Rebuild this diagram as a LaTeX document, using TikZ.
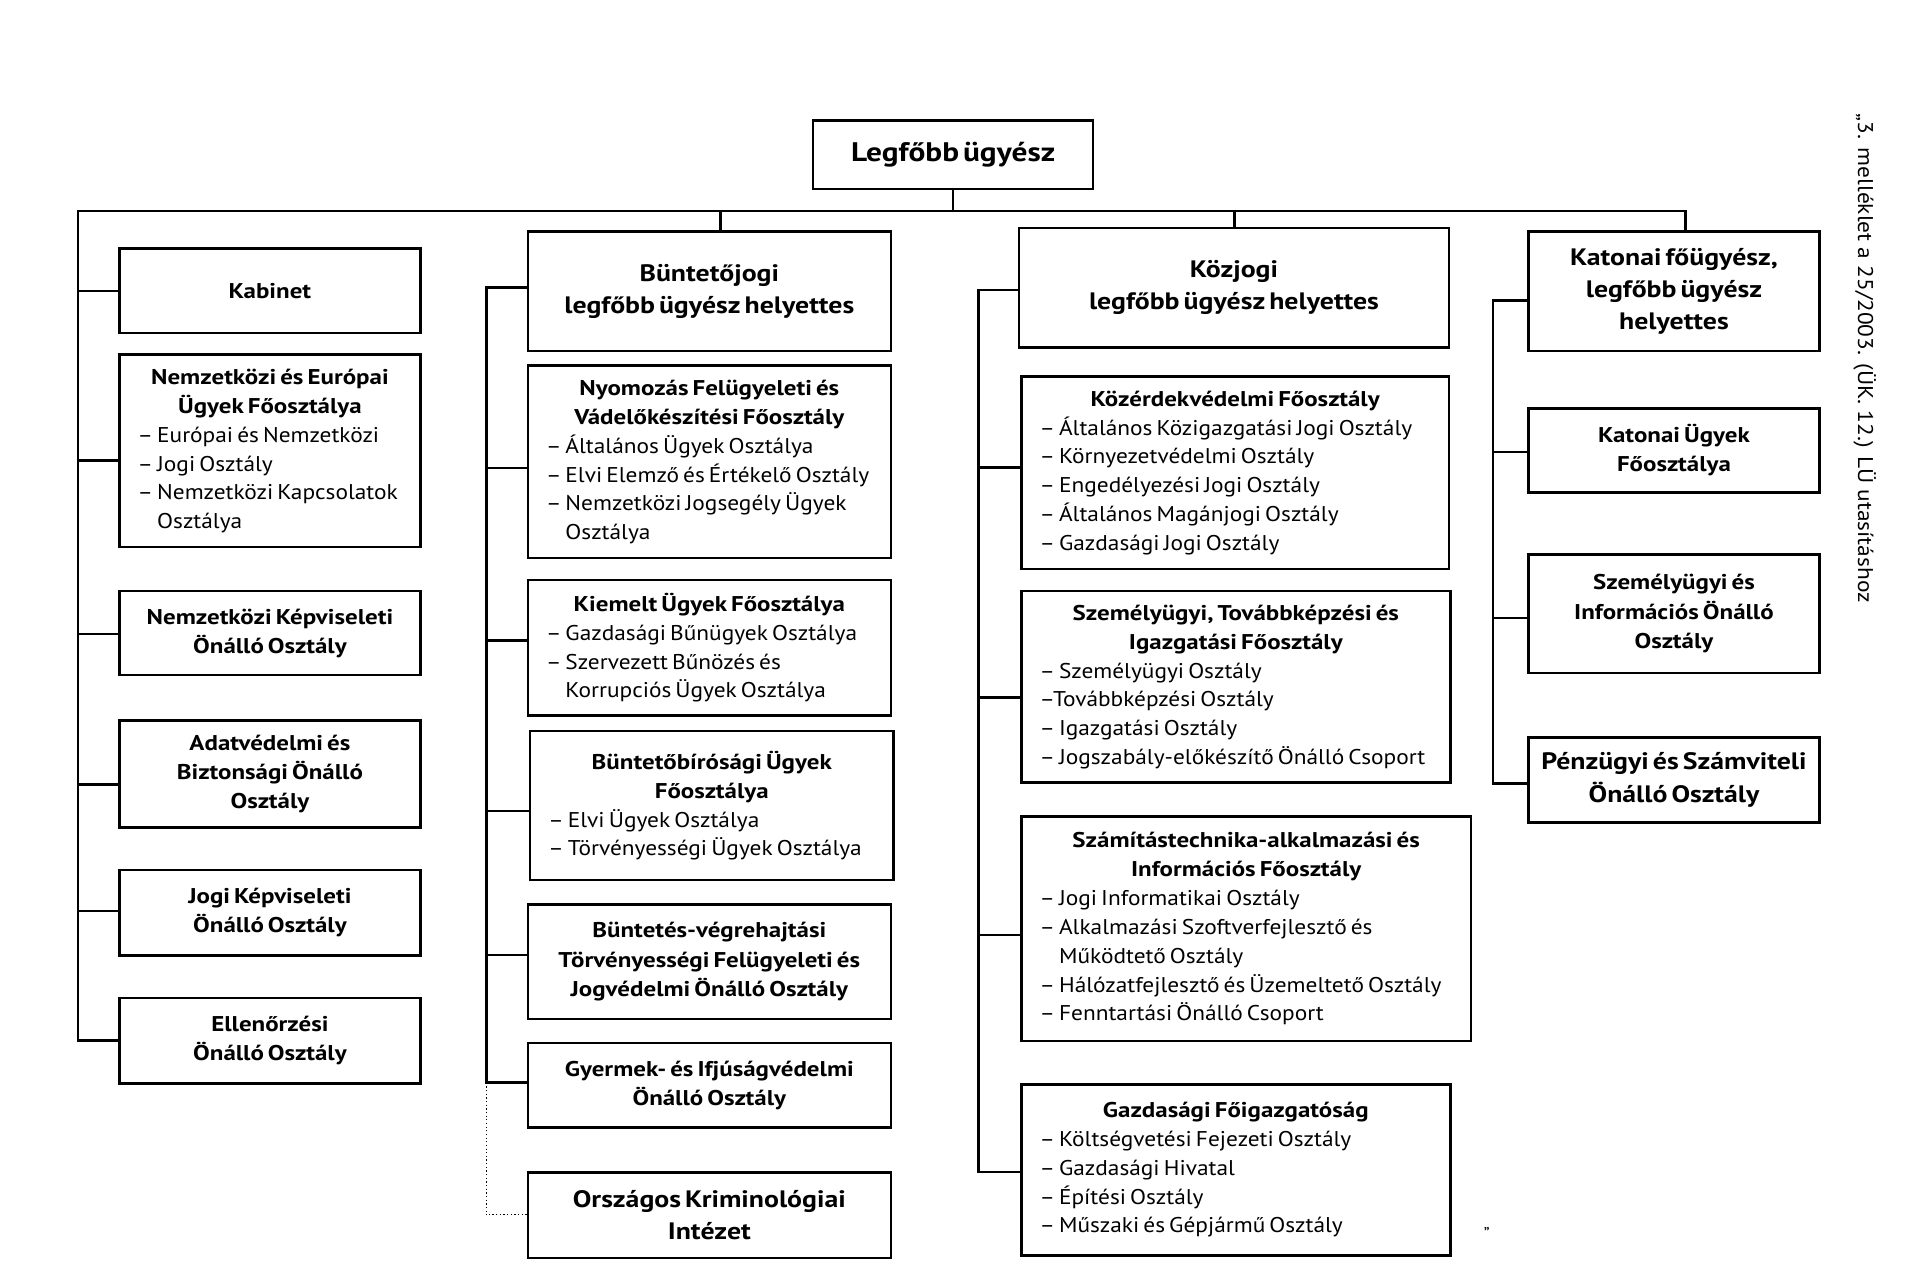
\documentclass[tikz,border=0pt]{standalone}
\usepackage{fontspec}
\setmainfont{PT Sans}
\newfontfamily\regf{PT Sans}[FakeStretch=1.095]
\newfontfamily\boldf{PT Sans}[FakeStretch=1.17]
\usetikzlibrary{calc}
\tikzset{
  x=1pt, y=-1pt,
  box/.style={draw, line width=2pt, inner sep=0pt},
  conn/.style={line width=2pt, line cap=rect},
  dotconn/.style={line width=1pt, dotted},
}
\newcommand\ttop{\fontsize{22}{28}\selectfont\boldf\bfseries}
\newcommand\tb{\fontsize{19.5}{26.5}\selectfont\boldf\bfseries}
\newcommand\tn{\fontsize{17.5}{24}\selectfont\boldf\bfseries}
\newcommand\ti{\par\raggedright\fontsize{17.5}{23.6}\selectfont\regf\mdseries}
\newcommand\hang{\hphantom{– }}
\newcommand\orgbox[7][15]{%
  \pgfmathsetmacro\bw{#5-#3}\pgfmathsetmacro\bh{#6-#4}\pgfmathsetmacro\tw{#5-#3-2*#1}%
  \node[box, minimum width=\bw pt, minimum height=\bh pt, text width=\tw pt] (#2) at ({(#3+#5)/2},{(#4+#6)/2}) {\centering #7\par};}
\newcommand\branch[4][conn]{%
  \path ($(#3.north west)!#4!(#3.south west)$) coordinate (b-#3);
  \draw[#1] (b-#3) -- (b-#3 -| #2);}
\begin{document}
\begin{tikzpicture}
\useasboundingbox (0,0) rectangle (1568,1048.6);
% top
\orgbox{top}{667}{99}{897}{155}{\ttop Legfőbb ügyész}
% column 1
\orgbox{kab}{98}{204}{345}{273}{\tn Kabinet}
\orgbox{nee}{98}{291}{345}{449}{\tn Nemzetközi és Európai\\Ügyek Főosztálya\ti – Európai és Nemzetközi\\– Jogi Osztály\\– Nemzetközi Kapcsolatok\\\hang Osztálya}
\orgbox[6]{nkk}{98}{485}{345}{554}{\tn Nemzetközi Képviseleti\\Önálló Osztály}
\orgbox{adat}{98}{591}{345}{679}{\tn Adatvédelmi és\\Biztonsági Önálló\\Osztály}
\orgbox{jogi}{98}{714}{345}{784}{\tn Jogi Képviseleti\\Önálló Osztály}
\orgbox{ell}{98}{819}{345}{889}{\tn Ellenőrzési\\Önálló Osztály}
% column 2
\orgbox{bj}{433}{190}{731}{288}{\tb Büntetőjogi\\legfőbb ügyész helyettes}
\orgbox{nyo}{433}{300}{731}{458}{\tn Nyomozás Felügyeleti és\\Vádelőkészítési Főosztály\ti – Általános Ügyek Osztálya\\– Elvi Elemző és Értékelő Osztály\\– Nemzetközi Jogsegély Ügyek\\\hang Osztálya}
\orgbox{kie}{433}{476}{731}{587}{\tn Kiemelt Ügyek Főosztálya\ti – Gazdasági Bűnügyek Osztálya\\– Szervezett Bűnözés és\\\hang Korrupciós Ügyek Osztálya}
\orgbox{bb}{435}{600}{733}{722}{\tn Büntetőbírósági Ügyek\\Főosztálya\ti – Elvi Ügyek Osztálya\\– Törvényességi Ügyek Osztálya}
\orgbox{bv}{433}{742}{731}{836}{\tn Büntetés-végrehajtási\\Törvényességi Felügyeleti és\\Jogvédelmi Önálló Osztály}
\orgbox{gy}{433}{856}{731}{925}{\tn Gyermek- és Ifjúságvédelmi\\Önálló Osztály}
\orgbox{okri}{433}{962}{731}{1032}{\tb Országos Kriminológiai\\Intézet}
% column 3
\orgbox{kj}{836}{187}{1189}{285}{\tb Közjogi\\legfőbb ügyész helyettes}
\orgbox{ked}{838}{309}{1189}{467}{\tn Közérdekvédelmi Főosztály\ti – Általános Közigazgatási Jogi Osztály\\– Környezetvédelmi Osztály\\– Engedélyezési Jogi Osztály\\– Általános Magánjogi Osztály\\– Gazdasági Jogi Osztály}
\orgbox{szem}{838}{485}{1190}{642}{\tn Személyügyi, Továbbképzési és\\Igazgatási Főosztály\ti – Személyügyi Osztály\\–Továbbképzési Osztály\\– Igazgatási Osztály\\– Jogszabály-előkészítő Önálló Csoport}
\orgbox{szam}{838}{670}{1207}{854}{\tn Számítástechnika-alkalmazási és\\Információs Főosztály\ti – Jogi Informatikai Osztály\\– Alkalmazási Szoftverfejlesztő és\\\hang Működtető Osztály\\– Hálózatfejlesztő és Üzemeltető Osztály\\– Fenntartási Önálló Csoport}
\orgbox{gazd}{838}{890}{1190}{1030}{\tn Gazdasági Főigazgatóság\ti – Költségvetési Fejezeti Osztály\\– Gazdasági Hivatal\\– Építési Osztály\\– Műszaki és Gépjármű Osztály}
% column 4
\orgbox{kat}{1254}{190}{1493}{288}{\tb Katonai főügyész,\\legfőbb ügyész\\helyettes}
\orgbox{katu}{1254}{335}{1493}{404}{\tn Katonai Ügyek\\Főosztálya}
\orgbox{szi}{1254}{455}{1493}{552}{\tn Személyügyi és\\Információs Önálló\\Osztály}
\orgbox[4]{penz}{1254}{605}{1493}{675}{\tb Pénzügyi és Számviteli\\Önálló Osztály}
% side note
\node[rotate=-90, anchor=west, inner sep=0pt, font=\fontsize{17.5}{20}\selectfont\regf] (note) at (1530,93) {„3. melléklet a 25/2003. (ÜK. 12.) LÜ utasításhoz};
\node[inner sep=0pt, font=\fontsize{14}{14}\selectfont] (endq) at (1220,1012) {”};
% bus
\coordinate (busL) at (64,173);
\coordinate (busR) at (1383,173);
\coordinate (d2) at (591,173);
\coordinate (d3) at (1013,173);
\coordinate (s2) at (399,0);
\coordinate (s3) at (803,0);
\coordinate (s4) at (1225,0);
\draw[conn] (top.south) -- (top.south |- busL);
\draw[conn] (busL) -- (busR);
\draw[conn] (d2) -- (d2 |- bj.north);
\draw[conn] (d3) -- (d3 |- kj.north);
\draw[conn] (busR) -- (busR |- kat.north);
% column 1 branches
\branch{busL}{kab}{0.506}
\branch{busL}{nee}{0.55}
\branch{busL}{nkk}{0.51}
\branch{busL}{adat}{0.595}
\branch{busL}{jogi}{0.478}
\branch{busL}{ell}{0.496}
\draw[conn] (busL) -- (b-ell -| busL);
% column 2
\branch{s2}{bj}{0.47}
\branch{s2}{nyo}{0.531}
\branch{s2}{kie}{0.446}
\branch{s2}{bb}{0.534}
\branch{s2}{bv}{0.442}
\branch{s2}{gy}{0.47}
\branch[dotconn]{s2}{okri}{0.496}
\draw[conn] (b-bj -| s2) -- (b-gy -| s2);
\draw[dotconn] (b-gy -| s2) -- (b-okri -| s2);
% column 3
\branch{s3}{kj}{0.519}
\branch{s3}{ked}{0.473}
\branch{s3}{szem}{0.556}
\branch{s3}{szam}{0.527}
\branch{s3}{gazd}{0.512}
\draw[conn] (b-kj -| s3) -- (b-gazd -| s3);
% column 4
\branch{s4}{kat}{0.574}
\branch{s4}{katu}{0.52}
\branch{s4}{szi}{0.534}
\branch{s4}{penz}{0.54}
\draw[conn] (b-kat -| s4) -- (b-penz -| s4);
\end{tikzpicture}
\end{document}
